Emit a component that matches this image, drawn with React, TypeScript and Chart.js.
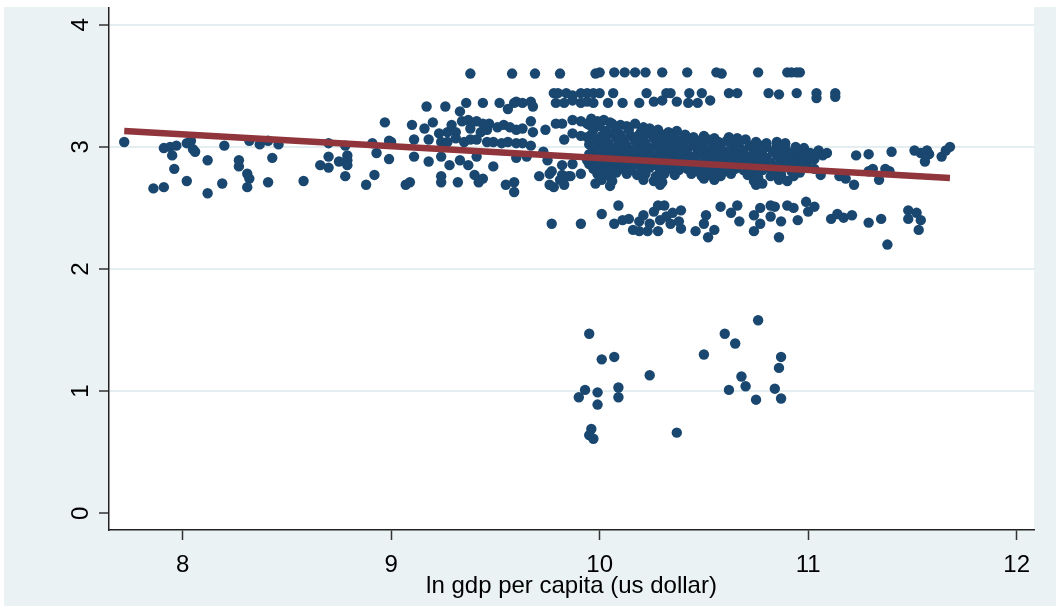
import { useEffect, useRef } from 'react';
import { Chart, registerables } from 'chart.js';

Chart.register(...registerables);

const xTicks = [8, 9, 10, 11, 12];
const yTicks = [0, 1, 2, 3, 4];
const xTitle = 'ln gdp per capita (us dollar)';

const leftGroup: [number, number][] = [
  [7.72, 3.04], [7.86, 2.66], [7.91, 2.67], [7.91, 2.99], [7.94, 3.0], [7.97, 3.01], [7.95, 2.93], [7.96, 2.82],
  [8.02, 2.72], [8.02, 3.03], [8.04, 3.05], [8.05, 2.98], [8.06, 2.96], [8.12, 2.89], [8.12, 2.62], [8.19, 2.7],
  [8.2, 3.01], [8.27, 2.89], [8.27, 2.84], [8.31, 2.78], [8.32, 2.74], [8.31, 2.67], [8.32, 3.05], [8.37, 3.02],
  [8.41, 3.05], [8.46, 3.02], [8.43, 2.91], [8.41, 2.71], [8.58, 2.72], [8.66, 2.85], [8.7, 2.92], [8.7, 2.83],
  [8.7, 3.03], [8.75, 2.88], [8.79, 2.93], [8.79, 2.89], [8.79, 2.85], [8.78, 3.01], [8.78, 2.76], [8.88, 2.69],
  [8.92, 2.77], [8.91, 3.03], [8.93, 2.95], [8.97, 3.2], [8.99, 3.05], [8.99, 2.9], [9.0, 3.04],
];

const topRows: [number, number][] = [
  [9.38, 3.6], [9.58, 3.6], [9.69, 3.6], [9.81, 3.6], [9.98, 3.6], [10.0, 3.61], [10.07, 3.61], [10.12, 3.61],
  [10.17, 3.61], [10.22, 3.61], [10.3, 3.61], [10.42, 3.61], [10.56, 3.61], [10.585, 3.6], [10.76, 3.61],
  [10.9, 3.61], [10.92, 3.61], [10.945, 3.61], [10.96, 3.61],
  [9.78, 3.44], [9.8, 3.44], [9.84, 3.44], [9.87, 3.42], [9.91, 3.44], [9.94, 3.44], [9.97, 3.44], [10.0, 3.44],
  [10.065, 3.44], [10.225, 3.44], [10.32, 3.44], [10.34, 3.44], [10.43, 3.44], [10.49, 3.44], [10.62, 3.44],
  [10.66, 3.44], [10.81, 3.44], [10.945, 3.44], [11.04, 3.44], [11.13, 3.44],
  [9.79, 3.36], [9.83, 3.36], [9.87, 3.38], [9.91, 3.36], [9.94, 3.37], [9.97, 3.36], [9.36, 3.36], [9.44, 3.36],
  [9.52, 3.36], [9.56, 3.31], [9.59, 3.36], [9.6, 3.37], [9.63, 3.36], [9.67, 3.37], [9.68, 3.33], [9.17, 3.33],
  [9.26, 3.33], [9.33, 3.29], [10.04, 3.36], [10.11, 3.36], [10.19, 3.36], [10.26, 3.37], [10.3, 3.38],
  [10.37, 3.37], [10.425, 3.36], [10.47, 3.36], [10.53, 3.38], [10.86, 3.43], [11.04, 3.4], [11.13, 3.41],
];

const middleGroup: [number, number][] = [
  [9.1, 3.18], [9.16, 3.15], [9.2, 3.2], [9.23, 3.11], [9.27, 3.12], [9.29, 3.18], [9.31, 3.12], [9.34, 3.21],
  [9.37, 3.22], [9.41, 3.21], [9.44, 3.19], [9.47, 3.19], [9.51, 3.16], [9.54, 3.18], [9.57, 3.16], [9.6, 3.14],
  [9.63, 3.15], [9.67, 3.21], [9.68, 3.12], [9.74, 3.14], [9.79, 3.19], [9.82, 3.19], [9.87, 3.22], [9.91, 3.21],
  [9.94, 3.19], [9.38, 3.15], [9.43, 3.12], [9.46, 3.14],
  [9.11, 3.06], [9.18, 3.06], [9.24, 3.04], [9.27, 3.04], [9.31, 3.07], [9.35, 3.04], [9.38, 3.06], [9.41, 3.06],
  [9.46, 3.04], [9.49, 3.04], [9.53, 3.03], [9.56, 3.04], [9.6, 3.03], [9.63, 3.03], [9.67, 3.01], [9.73, 2.96],
  [9.83, 3.06], [9.87, 3.11], [9.91, 3.09], [9.94, 3.08], [9.97, 3.07],
  [9.11, 2.92], [9.18, 2.88], [9.24, 2.92], [9.28, 2.85], [9.33, 2.89], [9.37, 2.85], [9.41, 2.92], [9.49, 2.84],
  [9.24, 2.76], [9.4, 2.77], [9.44, 2.74], [9.07, 2.69], [9.32, 2.71], [9.55, 2.69], [9.59, 2.71], [9.59, 2.63],
  [9.71, 2.76], [9.76, 2.78], [9.78, 2.67], [9.82, 2.77], [9.86, 2.76], [9.91, 2.78], [9.99, 2.78], [9.6, 2.91],
  [9.65, 2.92], [9.75, 2.89], [9.82, 2.85], [9.87, 2.86], [9.94, 2.89], [9.09, 2.71], [9.24, 2.71], [9.42, 2.71],
  [9.76, 2.69], [9.77, 2.8], [9.81, 2.73], [9.83, 2.69], [9.85, 2.76],
];

const denseCore: [number, number][] = [
  [9.96, 3.23], [9.99, 3.21], [10.02, 3.22], [10.05, 3.2],
  [9.95, 3.18], [10.0, 3.17], [10.06, 3.19], [10.1, 3.18], [10.13, 3.17], [10.17, 3.19], [10.21, 3.16],
  [9.97, 3.14], [10.03, 3.13], [10.08, 3.15], [10.14, 3.14], [10.2, 3.13], [10.24, 3.15], [10.28, 3.14], [10.33, 3.12], [10.37, 3.13],
  [9.96, 3.1], [10.01, 3.09], [10.05, 3.11], [10.1, 3.1], [10.15, 3.09], [10.19, 3.1], [10.23, 3.11], [10.27, 3.09],
  [10.31, 3.1], [10.36, 3.09], [10.41, 3.1], [10.45, 3.08], [10.5, 3.09], [10.55, 3.07], [10.62, 3.08], [10.66, 3.07],
  [9.98, 3.06], [10.03, 3.05], [10.08, 3.07], [10.12, 3.06], [10.17, 3.05], [10.21, 3.06], [10.26, 3.07], [10.3, 3.05],
  [10.34, 3.06], [10.39, 3.05], [10.43, 3.06], [10.48, 3.05], [10.52, 3.06], [10.57, 3.04], [10.61, 3.05], [10.66, 3.04],
  [10.7, 3.06], [10.75, 3.04], [10.8, 3.03], [10.85, 3.04], [10.89, 3.03],
  [9.95, 3.02], [10.0, 3.01], [10.04, 3.03], [10.09, 3.02], [10.13, 3.01], [10.18, 3.02], [10.22, 3.03], [10.27, 3.01],
  [10.31, 3.02], [10.36, 3.01], [10.4, 3.02], [10.45, 3.01], [10.49, 3.02], [10.54, 3.0], [10.58, 3.01], [10.63, 3.02],
  [10.67, 3.0], [10.72, 3.01], [10.76, 3.02], [10.8, 3.0], [10.85, 3.01], [10.89, 2.99], [10.94, 3.0], [10.98, 2.99],
  [9.97, 2.98], [10.02, 2.97], [10.06, 2.99], [10.11, 2.98], [10.15, 2.97], [10.2, 2.98], [10.24, 2.99], [10.29, 2.97],
  [10.33, 2.98], [10.38, 2.97], [10.42, 2.98], [10.47, 2.96], [10.51, 2.98], [10.56, 2.97], [10.6, 2.96], [10.65, 2.98],
  [10.69, 2.97], [10.74, 2.96], [10.78, 2.97], [10.83, 2.96], [10.87, 2.97], [10.92, 2.95], [10.96, 2.96], [11.01, 2.95], [11.05, 2.97],
  [9.95, 2.94], [9.99, 2.93], [10.04, 2.95], [10.08, 2.94], [10.13, 2.93], [10.17, 2.94], [10.22, 2.95], [10.26, 2.93],
  [10.31, 2.94], [10.35, 2.93], [10.4, 2.94], [10.44, 2.92], [10.49, 2.94], [10.53, 2.93], [10.58, 2.92], [10.62, 2.94],
  [10.67, 2.93], [10.71, 2.92], [10.76, 2.93], [10.8, 2.91], [10.85, 2.93], [10.89, 2.92], [10.94, 2.91], [10.98, 2.92], [11.03, 2.9],
  [9.97, 2.9], [10.01, 2.89], [10.06, 2.91], [10.1, 2.9], [10.15, 2.89], [10.19, 2.9], [10.24, 2.91], [10.28, 2.89],
  [10.33, 2.9], [10.37, 2.89], [10.42, 2.9], [10.46, 2.88], [10.51, 2.9], [10.55, 2.89], [10.6, 2.88], [10.64, 2.9],
  [10.69, 2.89], [10.73, 2.88], [10.78, 2.89], [10.82, 2.87], [10.87, 2.89], [10.91, 2.88], [10.96, 2.87], [11.0, 2.88],
  [9.95, 2.86], [10.0, 2.85], [10.04, 2.87], [10.09, 2.86], [10.13, 2.85], [10.18, 2.86], [10.22, 2.87], [10.27, 2.85],
  [10.31, 2.86], [10.36, 2.85], [10.4, 2.86], [10.45, 2.84], [10.49, 2.86], [10.54, 2.85], [10.58, 2.84], [10.63, 2.86],
  [10.67, 2.85], [10.72, 2.84], [10.76, 2.85], [10.81, 2.83], [10.85, 2.85], [10.9, 2.84], [10.94, 2.83], [10.99, 2.84], [11.03, 2.82],
  [9.97, 2.82], [10.02, 2.81], [10.06, 2.83], [10.11, 2.82], [10.15, 2.81], [10.2, 2.82], [10.24, 2.83], [10.29, 2.81],
  [10.33, 2.82], [10.38, 2.81], [10.42, 2.82], [10.47, 2.8], [10.51, 2.82], [10.56, 2.81], [10.6, 2.8], [10.65, 2.82],
  [10.69, 2.81], [10.74, 2.8], [10.78, 2.81], [10.83, 2.79], [10.87, 2.81], [10.92, 2.8], [10.96, 2.79],
  [9.99, 2.78], [10.04, 2.77], [10.08, 2.79], [10.13, 2.78], [10.18, 2.77], [10.22, 2.78], [10.27, 2.76], [10.31, 2.78],
  [10.36, 2.77], [10.44, 2.78], [10.49, 2.76], [10.53, 2.77], [10.58, 2.76], [10.63, 2.78], [10.71, 2.77], [10.76, 2.75],
  [10.82, 2.76], [10.87, 2.77], [10.93, 2.76],
  [10.01, 2.73], [10.06, 2.72], [10.21, 2.73], [10.26, 2.72], [10.3, 2.71], [10.5, 2.74], [10.55, 2.73], [10.74, 2.72],
  [10.78, 2.7], [10.86, 2.73], [10.9, 2.72], [10.05, 2.68], [10.29, 2.69], [10.75, 2.69], [9.98, 2.7],
];

const lowerBand: [number, number][] = [
  [9.77, 2.37], [9.91, 2.37], [10.01, 2.45], [10.09, 2.52], [10.07, 2.37], [10.11, 2.4], [10.14, 2.41], [10.16, 2.32],
  [10.19, 2.39], [10.19, 2.31], [10.21, 2.44], [10.23, 2.31], [10.24, 2.37], [10.26, 2.47], [10.28, 2.52], [10.28, 2.31],
  [10.29, 2.4], [10.31, 2.52], [10.32, 2.43], [10.34, 2.37], [10.35, 2.46], [10.38, 2.39], [10.39, 2.48], [10.39, 2.33],
  [10.46, 2.31], [10.5, 2.37], [10.51, 2.44], [10.52, 2.26], [10.55, 2.32], [10.58, 2.51], [10.63, 2.46], [10.66, 2.52],
  [10.67, 2.39], [10.74, 2.44], [10.74, 2.31], [10.77, 2.5], [10.77, 2.37], [10.82, 2.52], [10.82, 2.43], [10.84, 2.51],
  [10.87, 2.39], [10.86, 2.26], [10.9, 2.52], [10.93, 2.5], [10.95, 2.4], [10.99, 2.55], [11.0, 2.47], [11.03, 2.51],
  [11.11, 2.41], [11.14, 2.45], [11.17, 2.42], [11.21, 2.44], [11.29, 2.38], [11.35, 2.41], [11.48, 2.48], [11.48, 2.41],
  [11.52, 2.46], [11.54, 2.4], [11.53, 2.32], [11.38, 2.2],
];

const rightGroup: [number, number][] = [
  [11.07, 2.93], [11.09, 2.95], [11.23, 2.93], [11.29, 2.94], [11.4, 2.96], [11.51, 2.97], [11.54, 2.95], [11.57, 2.97],
  [11.58, 2.94], [11.56, 2.88], [11.64, 2.92], [11.66, 2.97], [11.68, 3.0], [11.06, 2.77], [11.15, 2.76], [11.18, 2.74],
  [11.22, 2.69], [11.29, 2.8], [11.31, 2.82], [11.34, 2.73], [11.37, 2.82], [11.39, 2.8],
];

const outliers: [number, number][] = [
  [9.95, 1.47], [10.01, 1.26], [10.07, 1.28], [9.9, 0.95], [9.93, 1.01], [9.99, 0.99], [9.99, 0.89], [10.09, 1.03],
  [10.09, 0.95], [10.24, 1.13], [9.96, 0.69], [9.95, 0.64], [9.97, 0.61], [10.37, 0.66], [10.5, 1.3], [10.6, 1.47],
  [10.65, 1.39], [10.76, 1.58], [10.68, 1.12], [10.7, 1.04], [10.62, 1.01], [10.75, 0.93], [10.84, 1.02], [10.87, 0.94],
  [10.87, 1.28], [10.86, 1.19],
];

// fitted line end points
const fitX = [7.72, 11.68];
const fitY = [3.13, 2.745];

const NAVY = '#1a476f';
const MAROON = '#90353b';
const BG = '#eaf2f3';
const FONT = "'Liberation Sans', Arial, Helvetica, sans-serif";

const plotBg = {
  id: 'plotBg',
  beforeDraw(chart: any) {
    const { ctx, chartArea } = chart;
    ctx.save();
    ctx.fillStyle = '#ffffff';
    ctx.fillRect(chartArea.left, chartArea.top, chartArea.right - chartArea.left, chartArea.bottom - chartArea.top);
    ctx.restore();
  },
};

export default function App() {
  const ref = useRef<HTMLCanvasElement | null>(null);

  useEffect(() => {
    if (!ref.current) return;
    const all = [...leftGroup, ...topRows, ...middleGroup, ...denseCore, ...lowerBand, ...rightGroup, ...outliers];
    const chart = new Chart(ref.current, {
      type: 'scatter',
      data: {
        datasets: [
          {
            type: 'line',
            data: fitX.map((x, i) => ({ x, y: fitY[i] })),
            borderColor: MAROON,
            borderWidth: 6.5,
            pointRadius: 0,
            fill: false,
            order: 0,
          } as any,
          {
            type: 'scatter',
            data: all.map(([x, y]) => ({ x, y })),
            backgroundColor: NAVY,
            borderColor: NAVY,
            borderWidth: 0,
            pointRadius: 5.2,
            order: 1,
          },
        ],
      },
      options: {
        animation: false,
        responsive: false,
        maintainAspectRatio: false,
        devicePixelRatio: 1,
        layout: { autoPadding: false, padding: { top: 0, right: 22, left: 0, bottom: 0 } },
        plugins: { legend: { display: false }, tooltip: { enabled: false } },
        scales: {
          x: {
            type: 'linear',
            min: 7.647,
            max: 12.083,
            afterBuildTicks: (axis: any) => {
              axis.ticks = xTicks.map((v) => ({ value: v }));
            },
            afterFit: (axis: any) => {
              axis.height = 76;
              axis.paddingLeft = 0;
              axis.paddingRight = 0;
            },
            grid: {
              drawOnChartArea: false,
              drawTicks: true,
              tickLength: 10,
              tickColor: '#333',
              tickWidth: 1.5,
            },
            border: { display: true, color: '#222', width: 1.5 },
            ticks: {
              color: '#000',
              font: { family: FONT, size: 24 },
              padding: 11,
              maxRotation: 0,
              minRotation: 0,
              callback: (v: any) => String(v),
            },
            title: {
              display: true,
              text: xTitle,
              color: '#000',
              font: { family: FONT, size: 24 },
              padding: { top: 0, bottom: 5.6 },
            },
          },
          y: {
            type: 'linear',
            min: -0.137,
            max: 4.145,
            afterBuildTicks: (axis: any) => {
              axis.ticks = yTicks.map((v) => ({ value: v }));
            },
            afterFit: (axis: any) => {
              axis.width = 105;
              axis.paddingTop = 0;
              axis.paddingBottom = 0;
            },
            grid: {
              color: (c: any) => (c.tick && c.tick.value === 0 ? 'rgba(0,0,0,0)' : '#e4eef0'),
              lineWidth: 2,
              drawTicks: true,
              tickLength: 10,
              tickColor: '#333',
              tickWidth: 1.5,
            },
            border: { display: true, color: '#222', width: 1.5 },
            ticks: {
              color: '#000',
              font: { family: FONT, size: 24 },
              padding: 11,
              minRotation: 90,
              maxRotation: 90,
              crossAlign: 'center',
              callback: (v: any) => String(v),
            },
          },
        },
      },
      plugins: [plotBg],
    });
    return () => chart.destroy();
  }, []);

  return (
    <div style={{ position: 'fixed', left: 0, top: 0, width: 1056, height: 607, background: '#fff' }}>
      <div style={{ position: 'absolute', left: 4, top: 7, width: 1052, height: 599, background: BG }}>
        <canvas ref={ref} width={1052} height={599} style={{ display: 'block', width: 1052, height: 599 }} />
      </div>
    </div>
  );
}
